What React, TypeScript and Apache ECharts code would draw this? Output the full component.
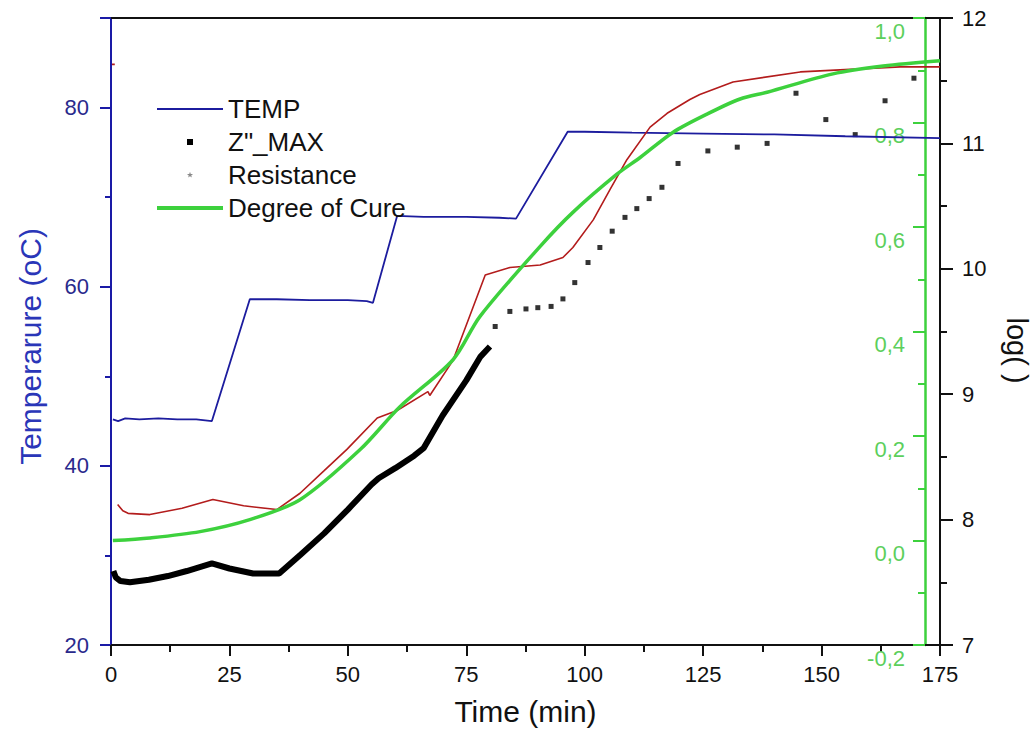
import React, { useEffect, useRef } from 'react';
import * as echarts from 'echarts';

const FONT = '"Liberation Sans", Arial, sans-serif';

// Axis ranges / ticks
const timeAxis = { min: 0, max: 175, interval: 25 };
const tempAxis = { min: 20, max: 90, interval: 20 };
const logAxis = { min: 7, max: 12, interval: 1 };
const cureAxis = { min: -0.2, max: 1.0, interval: 0.2 };

const legendNames = ['TEMP', 'Z"_MAX', 'Resistance', 'Degree of Cure'];

// TEMP (oC) vs time (min)
const tempData: (number | string)[][] = [
  [0.4, 45.2], [1.5, 45.0], [3, 45.3], [6, 45.2], [10, 45.3], [14, 45.2], [18, 45.2], [21.3, 45.0],
  [29.3, 58.6], [35, 58.6], [42, 58.5], [50, 58.5], [54, 58.4], [55.3, 58.2],
  [60.4, 67.9], [66, 67.8], [75, 67.8], [82, 67.7], [85.5, 67.6],
  [96.4, 77.3], [100, 77.3], [110, 77.2], [125, 77.1], [140, 77.0], [155, 76.8], [175, 76.6],
];

// Z"_MAX, log scale: dense early part (continuous) and sparse later points
const zmaxDense: number[][] = [
  [0.5, 7.59], [1, 7.54], [2, 7.51], [4, 7.50], [8, 7.52], [12, 7.55], [16, 7.59], [21.3, 7.65],
  [25, 7.61], [30, 7.57], [35.5, 7.57], [40, 7.72], [45, 7.89], [50, 8.08], [55, 8.28],
  [56.5, 8.33], [60, 8.41], [64, 8.51], [66, 8.57], [70, 8.83], [75, 9.11], [78, 9.30], [80, 9.38],
];
const zmaxSparse: number[][] = [
  [81.1, 9.54], [84.2, 9.66], [87.6, 9.68], [90.1, 9.69], [92.9, 9.70], [95.4, 9.76], [97.9, 9.89],
  [100.7, 10.05], [103.2, 10.17], [105.8, 10.30], [108.5, 10.41], [111.0, 10.48], [113.6, 10.56],
  [116.3, 10.65], [119.7, 10.84], [126.0, 10.94], [132.2, 10.97], [138.5, 11.00], [144.6, 11.40],
  [150.9, 11.19], [157.1, 11.07], [163.4, 11.34], [169.5, 11.52],
];

// Resistance, log scale
const resistanceData: (number | string)[][] = [
  [0.2, 11.63], [0.8, 11.63], [1.0, '-'],
  [1.4, 8.12], [2.5, 8.07], [3.6, 8.05], [8.2, 8.04], [15, 8.09], [21.5, 8.16], [28, 8.11],
  [35.0, 8.08], [39.9, 8.21], [45, 8.39], [49.8, 8.56], [56.2, 8.81], [60.4, 8.87], [66.9, 9.02],
  [67.3, 8.99], [72.2, 9.27], [79.0, 9.95], [84.2, 10.01], [90.6, 10.03], [95.4, 10.09],
  [97.5, 10.17], [101.8, 10.39], [105.3, 10.63], [108.9, 10.87], [113.8, 11.13], [117.4, 11.24],
  [122.2, 11.35], [124.3, 11.39], [131.3, 11.49], [145.5, 11.57], [156.0, 11.59], [166.6, 11.61],
  [175, 11.61],
];

// Degree of Cure
const cureData: number[][] = [
  [0.4, 0.0], [8.2, 0.005], [18.8, 0.017], [29.3, 0.04], [39.9, 0.078], [52.6, 0.174],
  [61.0, 0.256], [72.2, 0.346], [77.9, 0.429], [90.6, 0.563], [97.5, 0.628], [106.8, 0.701],
  [111.7, 0.733], [118.6, 0.781], [125.8, 0.816], [132.8, 0.845], [138.5, 0.858], [152.4, 0.893],
  [163.0, 0.908], [175, 0.918],
];

const BLUE_LINE = '#1c1c9e';
const BLUE_AXIS = '#1a1aa6';
const BLUE_TEXT = '#2a2a8c';
const BLUE_NAME = '#2a36b8';
const RED = '#b31c1c';
const GREEN = '#3dd13d';
const GREEN_TEXT = '#5ccf5c';

function App() {
  const ref = useRef<HTMLDivElement>(null);

  useEffect(() => {
    const chart = echarts.init(ref.current!, null, { renderer: 'svg' });
    const tickLabel = { fontSize: 22, fontFamily: FONT };
    const option: any = {
      animation: false,
      textStyle: { fontFamily: FONT },
      grid: { left: 111, right: 94, top: 18, bottom: 97, containLabel: false, outerBoundsMode: 'none' },
      legend: {
        orient: 'vertical',
        left: 157,
        top: 96,
        padding: 0,
        itemWidth: 66,
        itemHeight: 14,
        itemGap: 7,
        selectedMode: false,
        textStyle: { fontSize: 26, lineHeight: 26, color: '#111', fontFamily: FONT },
        data: [
          { name: legendNames[0], icon: 'path://M0,0H66V1.8H0Z', itemStyle: { color: BLUE_LINE, borderWidth: 0, borderColor: BLUE_LINE } },
          { name: legendNames[1], icon: 'path://M0,0L0,0.01M66,14L66,13.99M30,4H36V10H30Z', itemStyle: { color: '#000', borderWidth: 0, borderColor: '#000' } },
          { name: legendNames[2], icon: 'path://M0,0L0,0.01M66,14L66,13.99M33,3.8L33.76,5.95L36.04,6.01L34.24,7.4L34.88,9.59L33,8.3L31.12,9.59L31.76,7.4L29.96,6.01L32.24,5.95Z', itemStyle: { color: '#8a8a8a', borderWidth: 0, borderColor: '#8a8a8a' } },
          { name: legendNames[3], icon: 'path://M0,0H66V4H0Z', itemStyle: { color: GREEN, borderWidth: 0, borderColor: GREEN } },
        ],
      },
      xAxis: [
        {
          type: 'value',
          position: 'bottom',
          ...timeAxis,
          name: 'Time (min)',
          nameLocation: 'middle',
          nameGap: 51,
          nameTextStyle: { fontSize: 30, color: '#111', fontFamily: FONT },
          axisLine: { show: true, onZero: false, lineStyle: { color: '#111', width: 2 } },
          axisTick: { show: true, inside: false, length: 11, lineStyle: { color: '#111', width: 2 } },
          minorTick: { show: true, splitNumber: 2, length: 7, lineStyle: { color: '#111', width: 2 } },
          axisLabel: { ...tickLabel, color: '#111', margin: 18 },
          splitLine: { show: false },
        },
        {
          type: 'value',
          position: 'top',
          ...timeAxis,
          axisLine: { show: true, onZero: false, lineStyle: { color: '#111', width: 2 } },
          axisTick: { show: false },
          axisLabel: { show: false },
          splitLine: { show: false },
        },
      ],
      yAxis: [
        {
          type: 'value',
          position: 'left',
          ...tempAxis,
          name: 'Temperarure (oC)',
          nameLocation: 'middle',
          nameGap: 66,
          nameTextStyle: { fontSize: 30, color: BLUE_NAME, fontFamily: FONT, padding: [0, 30, 0, 0] },
          axisLine: { show: true, onZero: false, lineStyle: { color: BLUE_AXIS, width: 2 } },
          axisTick: { show: true, inside: false, length: 11, lineStyle: { color: BLUE_AXIS, width: 2 } },
          minorTick: { show: true, splitNumber: 2, length: 6, lineStyle: { color: BLUE_AXIS, width: 2 } },
          axisLabel: { ...tickLabel, color: BLUE_TEXT, margin: 22, showMaxLabel: false },
          splitLine: { show: false },
        },
        {
          type: 'value',
          position: 'right',
          ...logAxis,
          name: 'log( )',
          nameLocation: 'middle',
          nameRotate: -90,
          nameGap: 62,
          nameTextStyle: { fontSize: 29, color: '#111', fontFamily: FONT, padding: [0, 0, 0, 38] },
          axisLine: { show: true, onZero: false, lineStyle: { color: '#111', width: 2 } },
          axisTick: { show: true, inside: false, length: 13, lineStyle: { color: '#111', width: 2 } },
          minorTick: { show: true, splitNumber: 2, length: 7, lineStyle: { color: '#111', width: 2 } },
          axisLabel: { ...tickLabel, color: '#111', margin: 22 },
          splitLine: { show: false },
        },
        {
          type: 'value',
          position: 'right',
          offset: -15,
          ...cureAxis,
          axisLine: { show: true, onZero: false, lineStyle: { color: GREEN, width: 2.5 } },
          axisTick: { show: true, inside: true, length: 12, lineStyle: { color: GREEN, width: 2 } },
          minorTick: { show: true, splitNumber: 2, length: 7, lineStyle: { color: GREEN, width: 2 } },
          axisLabel: {
            ...tickLabel,
            inside: true,
            color: GREEN_TEXT,
            margin: 20,
            verticalAlign: 'top',
            padding: [2, 0, 0, 0],
            formatter: (v: number) => (Math.abs(v) < 1e-9 ? '0,0' : v.toFixed(1).replace('.', ',')),
          },
          splitLine: { show: false },
        },
      ],
      series: [
        { name: legendNames[0], type: 'line', xAxisIndex: 0, yAxisIndex: 0, data: tempData, symbol: 'none', showSymbol: false, lineStyle: { color: BLUE_LINE, width: 1.8 }, itemStyle: { color: BLUE_LINE }, z: 3 },
        { name: legendNames[1], type: 'line', xAxisIndex: 0, yAxisIndex: 1, data: zmaxDense, symbol: 'none', showSymbol: false, lineStyle: { color: '#000', width: 6 }, itemStyle: { color: '#000' }, z: 2 },
        { name: legendNames[1], type: 'scatter', xAxisIndex: 0, yAxisIndex: 1, data: zmaxSparse, symbol: 'rect', symbolSize: 5, itemStyle: { color: '#000' }, z: 2 },
        { name: legendNames[2], type: 'line', xAxisIndex: 0, yAxisIndex: 1, data: resistanceData, connectNulls: false, symbol: 'none', showSymbol: false, lineStyle: { color: RED, width: 1.6 }, itemStyle: { color: RED }, z: 4 },
        { name: legendNames[3], type: 'line', xAxisIndex: 0, yAxisIndex: 2, data: cureData, symbol: 'none', showSymbol: false, smooth: 0.3, lineStyle: { color: GREEN, width: 3.5 }, itemStyle: { color: GREEN }, z: 5 },
      ],
    };
    chart.setOption(option);
    return () => chart.dispose();
  }, []);

  return (
    <div
      ref={ref}
      style={{ position: 'fixed', left: 0, top: 0, width: 1034, height: 742, background: '#fff' }}
    />
  );
}

export default App;
